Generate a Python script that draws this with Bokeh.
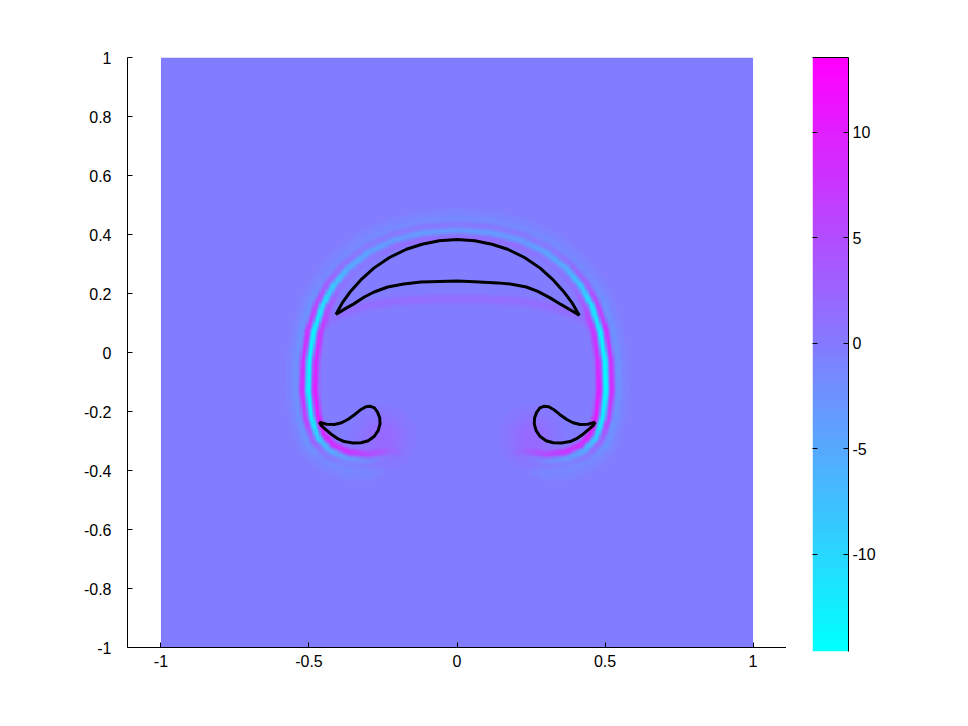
import numpy as np
from bokeh.plotting import figure
from bokeh.models import Range1d, LinearColorMapper, FixedTicker, LinearAxis
from bokeh.layouts import row
from bokeh.embed import file_html
from bokeh.resources import INLINE

# ---------------- data ----------------
x_ticks = [-1, -0.5, 0, 0.5, 1]
x_labels = ["-1", "-0.5", "0", "0.5", "1"]
y_ticks = [-1, -0.8, -0.6, -0.4, -0.2, 0, 0.2, 0.4, 0.6, 0.8, 1]
y_labels = ["-1", "-0.8", "-0.6", "-0.4", "-0.2", "0", "0.2", "0.4", "0.6", "0.8", "1"]
cb_ticks = [-10, -5, 0, 5, 10]
cb_labels = ["-10", "-5", "0", "5", "10"]
c_low, c_high = -14.6, 13.55
bg_val = -0.5

# vortex sheet centre line (cyan core), left-bottom -> top -> right-bottom
sheet_x = [-0.22, -0.30, -0.37, -0.43, -0.47, -0.493, -0.503, -0.50, -0.485, -0.455, -0.42, -0.37, -0.30, -0.21, -0.11, 0.0,
           0.11, 0.21, 0.30, 0.37, 0.42, 0.455, 0.485, 0.50, 0.503, 0.493, 0.47, 0.43, 0.37, 0.30, 0.22]
sheet_y = [-0.355, -0.368, -0.36, -0.333, -0.29, -0.22, -0.13, -0.03, 0.07, 0.16, 0.225, 0.285, 0.34, 0.383, 0.407, 0.415,
           0.407, 0.383, 0.34, 0.285, 0.225, 0.16, 0.07, -0.03, -0.13, -0.22, -0.29, -0.333, -0.36, -0.368, -0.355]
core_val = [0, -2, -3, -5, -9, -13, -14, -14, -13, -11, -8, -5, -4, -3, -3, -3,
            -3, -3, -4, -5, -8, -11, -13, -14, -14, -13, -9, -5, -3, -2, 0]
outer_val = [0, 0, 0, 1, 4, 8, 10, 10, 9, 7, 4, 2, 1, 1, 1, 1,
             1, 1, 1, 2, 4, 7, 9, 10, 10, 8, 4, 1, 0, 0, 0]
inner_val = [1, 5, 8, 9, 10, 11, 11, 10, 8, 5, 2, 1, 1, 2, 2, 2,
             2, 2, 1, 1, 2, 5, 8, 10, 11, 11, 10, 9, 8, 5, 1]
fringe_val = [0, -1, -1, -1, -2, -2, -2, -2, -2, -2, -1, -1, -1, -1, -1, -1,
              -1, -1, -1, -1, -1, -2, -2, -2, -2, -2, -2, -1, -1, -1, 0]

# faint positive band under the crescent
under_x = [-0.44, -0.38, -0.30, -0.20, -0.10, 0.0, 0.10, 0.20, 0.30, 0.38, 0.44]
under_y = [0.10, 0.135, 0.16, 0.175, 0.18, 0.18, 0.18, 0.175, 0.16, 0.135, 0.10]
under_val = [1, 2, 2, 2, 2, 2, 2, 2, 2, 2, 1]

# faint haze near the two small vortices
halo_x = [-0.25, 0.25]
halo_y = [-0.29, -0.29]
halo_val = [2.5, 2.5]

# zero contours
cres_x = [-0.409, -0.387, -0.359, -0.322, -0.281, -0.228, -0.171, -0.118, -0.060, 0.0, 0.060, 0.118, 0.171, 0.228, 0.281, 0.322, 0.359, 0.389, 0.413,
          0.385, 0.351, 0.313, 0.273, 0.234, 0.18, 0.137, 0.06, 0.0, -0.06, -0.122, -0.18, -0.234, -0.28, -0.313, -0.35, -0.38, -0.409]
cres_y = [0.129, 0.169, 0.208, 0.249, 0.286, 0.322, 0.350, 0.367, 0.379, 0.383, 0.379, 0.367, 0.350, 0.322, 0.286, 0.249, 0.208, 0.168, 0.126,
          0.143, 0.163, 0.186, 0.207, 0.222, 0.232, 0.236, 0.240, 0.242, 0.241, 0.239, 0.232, 0.222, 0.205, 0.188, 0.164, 0.147, 0.129]
blobL_x = [-0.465, -0.44, -0.414, -0.39, -0.369, -0.345, -0.324, -0.308, -0.294, -0.279, -0.268, -0.261, -0.260, -0.266, -0.279, -0.300,
           -0.324, -0.352, -0.381, -0.405, -0.426, -0.445, -0.459, -0.465]
blobL_y = [-0.236, -0.243, -0.244, -0.238, -0.227, -0.210, -0.193, -0.184, -0.182, -0.188, -0.203, -0.222, -0.242, -0.264, -0.284, -0.299,
           -0.306, -0.307, -0.302, -0.291, -0.276, -0.260, -0.247, -0.236]
blobR_x = [0.467, 0.442, 0.416, 0.392, 0.371, 0.347, 0.326, 0.310, 0.295, 0.280, 0.269, 0.262, 0.261, 0.267, 0.280, 0.301,
           0.325, 0.353, 0.382, 0.406, 0.427, 0.446, 0.461, 0.467]
blobR_y = [-0.236, -0.243, -0.244, -0.238, -0.227, -0.210, -0.193, -0.184, -0.182, -0.188, -0.203, -0.222, -0.242, -0.264, -0.284, -0.299,
           -0.306, -0.307, -0.302, -0.291, -0.276, -0.260, -0.247, -0.236]

# ---------------- build the field ----------------
N = 501
gx = np.linspace(-1, 1, N)
X, Y = np.meshgrid(gx, gx)


def path_distance(px, py, vals_list):
    px = np.asarray(px, float); py = np.asarray(py, float)
    best_d = np.full(X.shape, np.inf)
    best_s = np.zeros(X.shape)
    out_vals = [np.zeros(X.shape) for _ in vals_list]
    for i in range(len(px) - 1):
        ax, ay = px[i], py[i]
        vx, vy = px[i + 1] - ax, py[i + 1] - ay
        L2 = vx * vx + vy * vy
        u = np.clip(((X - ax) * vx + (Y - ay) * vy) / L2, 0, 1)
        dx = X - (ax + u * vx)
        dy = Y - (ay + u * vy)
        d = np.hypot(dx, dy)
        cross = vx * (Y - ay) - vy * (X - ax)
        m = d < best_d
        best_d[m] = d[m]
        best_s[m] = np.where(cross[m] > 0, d[m], -d[m])
        for k, vals in enumerate(vals_list):
            a = vals[i] * (1 - u) + vals[i + 1] * u
            out_vals[k][m] = a[m]
    return best_s, out_vals


field = np.full(X.shape, bg_val)
s, (a_core, a_out, a_in, a_fr) = path_distance(sheet_x, sheet_y, [core_val, outer_val, inner_val, fringe_val])
field += a_core * np.exp(-(s) ** 2 / (2 * 0.0075 ** 2))
field += a_out * np.exp(-(s - 0.021) ** 2 / (2 * 0.007 ** 2))
field += a_in * np.exp(-(s + 0.022) ** 2 / (2 * 0.0085 ** 2))
field += a_fr * np.exp(-(s - 0.042) ** 2 / (2 * 0.012 ** 2))
s2, (a_u,) = path_distance(under_x, under_y, [under_val])
field += a_u * np.exp(-(s2) ** 2 / (2 * 0.013 ** 2))
for hx, hy, hv in zip(halo_x, halo_y, halo_val):
    field += hv * np.exp(-((X - hx) ** 2 + (Y - hy) ** 2) / (2 * 0.06 ** 2))

# MATLAB "cool" colormap, 64 levels
cool = []
for i in range(64):
    t = i / 63
    cool.append("#%02x%02x%02x" % (int(round(255 * t)), int(round(255 * (1 - t))), 255))
mapper = LinearColorMapper(palette=cool, low=c_low, high=c_high)

FONT = "Liberation Sans Narrow, Liberation Sans, sans-serif"
FS = "16px"

# ---------------- main axes ----------------
p = figure(x_range=Range1d(-1.113, 1.113), y_range=Range1d(-1, 1),
           frame_width=659, frame_height=590,
           min_border_left=127, min_border_top=57, min_border_bottom=40, min_border_right=0,
           output_backend="svg", toolbar_location=None)
p.grid.visible = False
p.outline_line_color = None
p.background_fill_color = "white"
p.border_fill_color = "white"

p.image(image=[field], x=-1, y=-1, dw=2, dh=2, color_mapper=mapper)
p.line(cres_x, cres_y, line_color="black", line_width=3)
p.line(blobL_x, blobL_y, line_color="black", line_width=3)
p.line(blobR_x, blobR_y, line_color="black", line_width=3)

p.xaxis.ticker = FixedTicker(ticks=x_ticks)
p.xaxis.major_label_overrides = {t: l for t, l in zip(x_ticks, x_labels)}
p.yaxis.ticker = FixedTicker(ticks=y_ticks)
p.yaxis.major_label_overrides = {t: l for t, l in zip(y_ticks, y_labels)}
for ax in (p.xaxis, p.yaxis):
    ax.major_tick_in = 5
    ax.major_tick_out = 0
    ax.minor_tick_line_color = None
    ax.axis_line_color = "black"
    ax.major_tick_line_color = "black"
    ax.major_label_text_font = FONT
    ax.major_label_text_font_size = FS
    ax.major_label_text_color = "black"
p.xaxis.major_label_standoff = 7
p.yaxis.major_label_standoff = 16

# ---------------- colorbar ----------------
cb = figure(x_range=Range1d(0, 1), y_range=Range1d(c_low, c_high),
            frame_width=36, frame_height=594,
            min_border_left=26, min_border_top=56, min_border_bottom=37, min_border_right=40,
            y_axis_location="right", x_axis_location=None,
            output_backend="svg", toolbar_location=None)
cb.grid.visible = False
cb.outline_line_color = None
cb.border_fill_color = "white"
grad = np.linspace(c_low, c_high, 256).reshape(256, 1)
cb.image(image=[grad], x=0, y=c_low, dw=1, dh=c_high - c_low, color_mapper=mapper)
cb.yaxis.ticker = FixedTicker(ticks=cb_ticks)
cb.yaxis.major_label_overrides = {t: l for t, l in zip(cb_ticks, cb_labels)}
cb.yaxis.major_tick_in = 5
cb.yaxis.major_tick_out = 0
cb.yaxis.minor_tick_line_color = None
cb.yaxis.major_label_standoff = 4
cb.yaxis.major_label_text_font = FONT
cb.yaxis.major_label_text_font_size = FS
cb.yaxis.major_label_text_color = "black"

left_ax = LinearAxis(ticker=FixedTicker(ticks=cb_ticks), axis_line_color=None,
                     major_tick_in=5, major_tick_out=0, minor_tick_line_color=None,
                     major_label_overrides={t: "" for t in cb_ticks})
cb.add_layout(left_ax, "left")
top_ax = LinearAxis(ticker=FixedTicker(ticks=[]), major_tick_in=0, major_tick_out=0,
                    minor_tick_line_color=None, major_label_text_font_size="0px")
cb.add_layout(top_ax, "above")

layout = row(p, cb)
open("out.html", "w").write(file_html(layout, INLINE))
